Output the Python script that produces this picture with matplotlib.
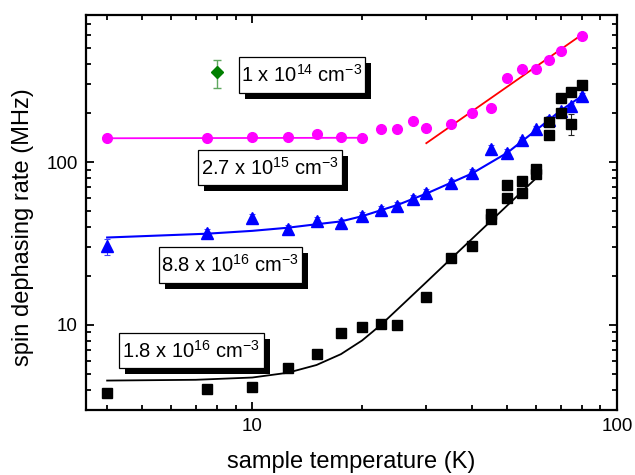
import numpy as np
import matplotlib
matplotlib.use('Agg')
import matplotlib.pyplot as plt
import matplotlib.patheffects as pe
from matplotlib.patches import Rectangle
from matplotlib.ticker import NullFormatter, FixedLocator, FixedFormatter, LogLocator

plt.rcParams['font.family'] = ['Liberation Sans', 'DejaVu Sans']
plt.rcParams['mathtext.fontset'] = 'custom'
plt.rcParams['mathtext.rm'] = 'Liberation Sans'
plt.rcParams['mathtext.it'] = 'Liberation Sans:italic'
plt.rcParams['mathtext.bf'] = 'Liberation Sans:bold'

# 2.7e15 sample (magenta circles)
T_mag = [4, 7.5, 10, 12.5, 15, 17.5, 20, 22.5, 25, 27.5, 30, 35, 40, 45,
         50, 55, 60, 65, 70, 80]
r_mag = [140, 140, 142, 142, 148, 142, 140, 159, 159, 178, 161, 171, 199, 214,
         330, 375, 375, 426, 483, 597]
fit_mag_T = [4, 20]
fit_mag_r = [140, 141]
fit_red_T = [30, 80]
fit_red_r = [130.6, 605]

# 8.8e16 sample (blue triangles)
T_blu = [4, 7.5, 10, 12.5, 15, 17.5, 20, 22.5, 25, 27.5, 30, 35, 40, 45, 50,
         55, 60, 65, 70, 75, 80]
r_blu = [30.3, 36.8, 45.5, 39.0, 43.6, 42.4, 46.8, 51.0, 53.9, 59.4, 64.7,
         74.4, 85.7, 120, 113.5, 136, 159, 181, 205, 220, 253]
e_blu = [3.6, 2.0, 2.5, 2.2, 2.4, 2.3, 2.5, 2.7, 2.9, 3.2, 3.5, 4.0, 4.6, 6.5,
         6.1, 7.3, 8.5, 9.8, 11, 12, 13.6]
fit_blu_T = [4, 7.5, 10, 12.5, 15, 17.5, 20, 25, 30, 40, 50, 60, 70, 80]
fit_blu_r = [34.4, 36.3, 37.8, 39.5, 41.5, 43.2, 46.5, 54.5, 64, 85, 114, 157,
             207, 254]

# 1.8e16 sample (black squares)
T_blk = [4, 7.5, 10, 12.5, 15, 17.5, 20, 22.5, 25, 30, 35, 40, 45, 45, 50, 50,
         55, 55, 60, 60, 65, 65, 70, 70, 75, 75, 80]
r_blk = [3.82, 4.05, 4.17, 5.44, 6.6, 8.9, 9.68, 10.1, 9.96, 14.8, 25.9, 30.7,
         48, 45, 72, 60, 76.5, 64.7, 90.6, 84.5, 176, 146, 246, 199, 268, 171,
         299]
e_blk = [0] * 25 + [25, 0]
fit_blk_T = [4, 7, 10, 12.5, 15, 17.5, 20, 22.5, 25, 30, 35, 40, 50, 60.5]
fit_blk_r = [4.55, 4.6, 4.75, 5.08, 5.67, 6.61, 8.02, 9.98, 12.45, 18.3, 25.4,
             33.7, 54.1, 81]

# 1e14 sample (green diamond)
T_grn = [8]
r_grn = [355]
e_grn = [71]

labels = [r'1 x 10$^{14}$ cm$^{-3}$', r'2.7 x 10$^{15}$ cm$^{-3}$',
          r'8.8 x 10$^{16}$ cm$^{-3}$', r'1.8 x 10$^{16}$ cm$^{-3}$']
# label boxes in axes fraction: x0, y0, width, height
label_boxes = [(0.288, 0.8025, 0.2373, 0.0912),
               (0.211, 0.5696, 0.2712, 0.0886),
               (0.1375, 0.3215, 0.2693, 0.0912),
               (0.0621, 0.1063, 0.2731, 0.0886)]

fig = plt.figure(figsize=(6.35, 4.75), dpi=100)
ax = fig.add_axes([0.1354, 0.1368, 0.8363, 0.8316])
ax.set_xscale('log')
ax.set_yscale('log')

# fits
ax.plot(fit_mag_T, fit_mag_r, '-', color='#ff00ff', lw=1.3, zorder=2)
ax.plot(fit_red_T, fit_red_r, '-', color='#ff0000', lw=1.3, zorder=2)
ax.plot(fit_blu_T, fit_blu_r, '-', color='#0000ff', lw=1.5, zorder=2)
ax.plot(fit_blk_T, fit_blk_r, '-', color='black', lw=1.3, zorder=2)

# data
ax.plot(T_mag, r_mag, 'o', color='#ff00ff', ms=7, mec='#ff00ff', zorder=3)
ax.errorbar(T_blu, r_blu, yerr=e_blu, fmt='^', color='#0000ff', ms=8,
            ecolor='#4040ff', elinewidth=0.8, capsize=2.5, capthick=0.8, zorder=3)
ax.errorbar(T_blk, r_blk, yerr=e_blk, fmt='s', color='black', ms=6.5,
            ecolor='#222222', elinewidth=0.8, capsize=2.5, capthick=0.8, zorder=3)
ax.errorbar(T_grn, r_grn, yerr=e_grn, fmt='D', color='#007f00', ms=6,
            ecolor='#5fa85f', elinewidth=1.0, capsize=3, capthick=1.0, zorder=3)

for txt, (x0, y0, w, h) in zip(labels, label_boxes):
    rect = Rectangle((x0, y0), w, h, transform=ax.transAxes, facecolor='white',
                     edgecolor='black', linewidth=0.9, zorder=5)
    rect.set_path_effects([
        pe.SimplePatchShadow(offset=(4.3, -4.3), shadow_rgbFace='black', alpha=1.0),
        pe.Normal()])
    ax.add_patch(rect)
    ax.text(x0 + w / 2, y0 + h / 2, txt, transform=ax.transAxes, fontsize=14.5,
            ha='center', va='center', zorder=6)

ax.set_xlim(3.5, 100)
ax.set_ylim(3.0, 800)

ax.xaxis.set_major_locator(FixedLocator([10, 100]))
ax.xaxis.set_major_formatter(FixedFormatter(['10', '100']))
ax.yaxis.set_major_locator(FixedLocator([10, 100]))
ax.yaxis.set_major_formatter(FixedFormatter(['10', '100']))
ax.xaxis.set_minor_locator(LogLocator(base=10, subs=np.arange(2, 10)))
ax.yaxis.set_minor_locator(LogLocator(base=10, subs=np.arange(2, 10)))
ax.xaxis.set_minor_formatter(NullFormatter())
ax.yaxis.set_minor_formatter(NullFormatter())

ax.tick_params(which='both', direction='in', top=True, right=True, width=1.3,
               labelsize=13.5)
ax.tick_params(which='major', length=6)
ax.tick_params(which='minor', length=3.5)
ax.tick_params(axis='x', pad=6)
ax.tick_params(axis='y', pad=6)
for s in ax.spines.values():
    s.set_linewidth(1.6)

ax.set_xlabel('sample temperature (K)', fontsize=17)
ax.set_ylabel('spin dephasing rate (MHz)', fontsize=17)
ax.xaxis.set_label_coords(0.5, -0.103)
ax.yaxis.set_label_coords(-0.098, 0.463)

fig.savefig('out.png', dpi=100, facecolor='white')
